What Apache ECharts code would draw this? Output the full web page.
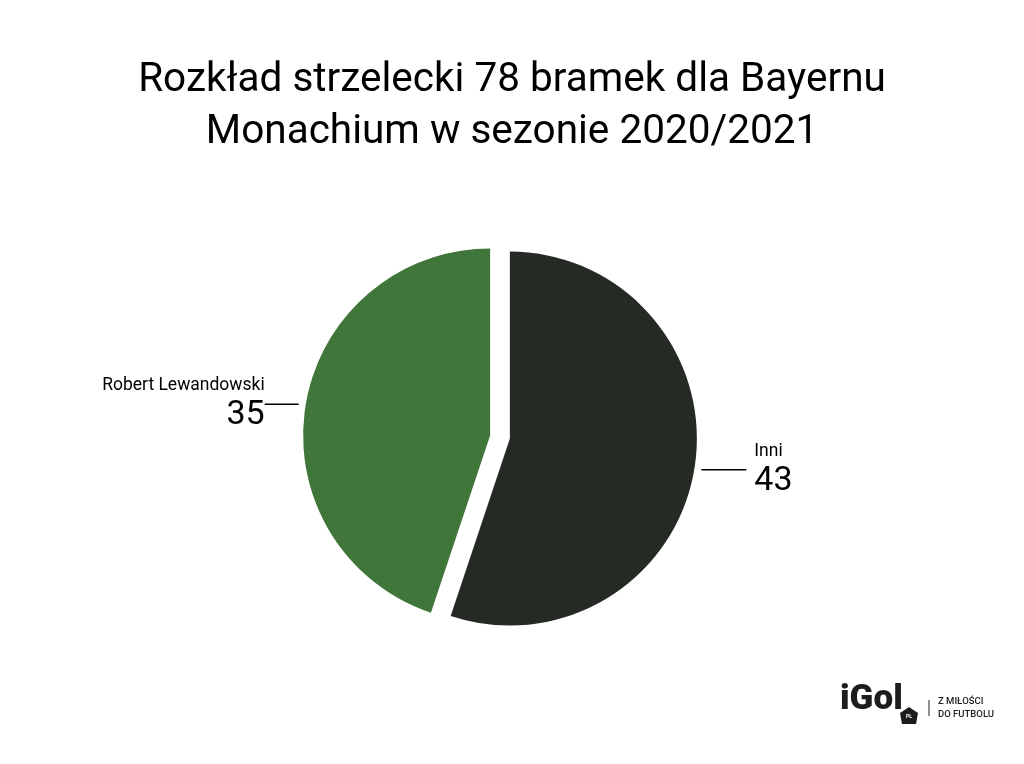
<!DOCTYPE html>
<html>
<head>
<meta charset="utf-8">
<script src="https://cdn.jsdelivr.net/npm/echarts@6/dist/echarts.min.js"></script>
<style>
html,body{margin:0;padding:0;background:#fff;}
#c{width:1024px;height:764px;}
</style>
</head>
<body>
<div id="c"></div>
<script>
const titleText = 'Rozkład strzelecki 78 bramek dla Bayernu\nMonachium w sezonie 2020/2021';
const categories = ['Inni', 'Robert Lewandowski'];
const values = [43, 35];
const colors = ['#262a24', '#41763a'];

const chart = echarts.init(document.getElementById('c'), null, {renderer: 'canvas'});
const FONT = 'Roboto, "Noto Sans", sans-serif';

const labelData = categories.map((name, i) => ({
  name: name,
  value: values[i],
  selected: true,
  label: i === 0 ? {distanceToLabelLine: 8} : {distanceToLabelLine: 0},
  labelLine: i === 0 ? {length2: 45} : {length2: 34}
}));
const pieData = categories.map((name, i) => ({
  name: name,
  value: values[i],
  selected: true,
  itemStyle: {color: colors[i]}
}));

chart.setOption({
  animation: false,
  backgroundColor: '#ffffff',
  title: {
    text: titleText,
    left: 'center',
    top: 50,
    textStyle: {fontFamily: FONT, fontSize: 40.5, fontWeight: 'normal', color: '#000', lineHeight: 52}
  },
  series: [
    {
      type: 'pie',
      silent: true,
      center: [500, 437],
      radius: 194,
      startAngle: 90,
      clockwise: true,
      selectedMode: 'multiple',
      selectedOffset: 10,
      itemStyle: {color: 'rgba(0,0,0,0)'},
      select: {itemStyle: {color: 'rgba(0,0,0,0)'}},
      label: {
        show: true,
        position: 'outside',
        formatter: '{n|{b}}\n{v|{c}}',
        color: '#000',
        rich: {
          n: {fontFamily: FONT, fontSize: 17.5, lineHeight: 23, color: '#000'},
          v: {fontFamily: FONT, fontSize: 34, lineHeight: 37, color: '#000'}
        }
      },
      labelLine: {show: true, length: 0, length2: 35, smooth: false, lineStyle: {color: '#000', width: 1.5}},
      data: labelData
    },
    {
      type: 'pie',
      silent: true,
      center: [500, 437],
      radius: 187,
      startAngle: 90,
      clockwise: true,
      selectedMode: 'multiple',
      selectedOffset: 10,
      label: {show: false},
      labelLine: {show: false},
      data: pieData
    }
  ],
  graphic: [
    {type: 'text', left: 840, top: 683, style: {text: 'iGol', font: '900 35px Roboto, sans-serif', fill: '#1d1d1b'}},
    {type: 'polygon', shape: {points: [[909,707],[918,713],[916,724],[902,724],[900,713]]}, style: {fill: '#1d1d1b'}},
    {type: 'text', x: 909, y: 717, style: {text: 'PL', font: 'bold 5px Roboto, sans-serif', fill: '#fff', align: 'center', verticalAlign: 'middle'}},
    {type: 'line', shape: {x1: 929, y1: 700, x2: 929, y2: 716}, style: {stroke: '#1d1d1b', lineWidth: 1}},
    {type: 'text', left: 938, top: 697, style: {text: 'Z MIŁOŚCI', font: '500 9.5px Roboto, sans-serif', fill: '#1d1d1b', letterSpacing: 1}},
    {type: 'text', left: 938, top: 710, style: {text: 'DO FUTBOLU', font: '500 9.5px Roboto, sans-serif', fill: '#1d1d1b', letterSpacing: 1}}
  ]
});
</script>
</body>
</html>
